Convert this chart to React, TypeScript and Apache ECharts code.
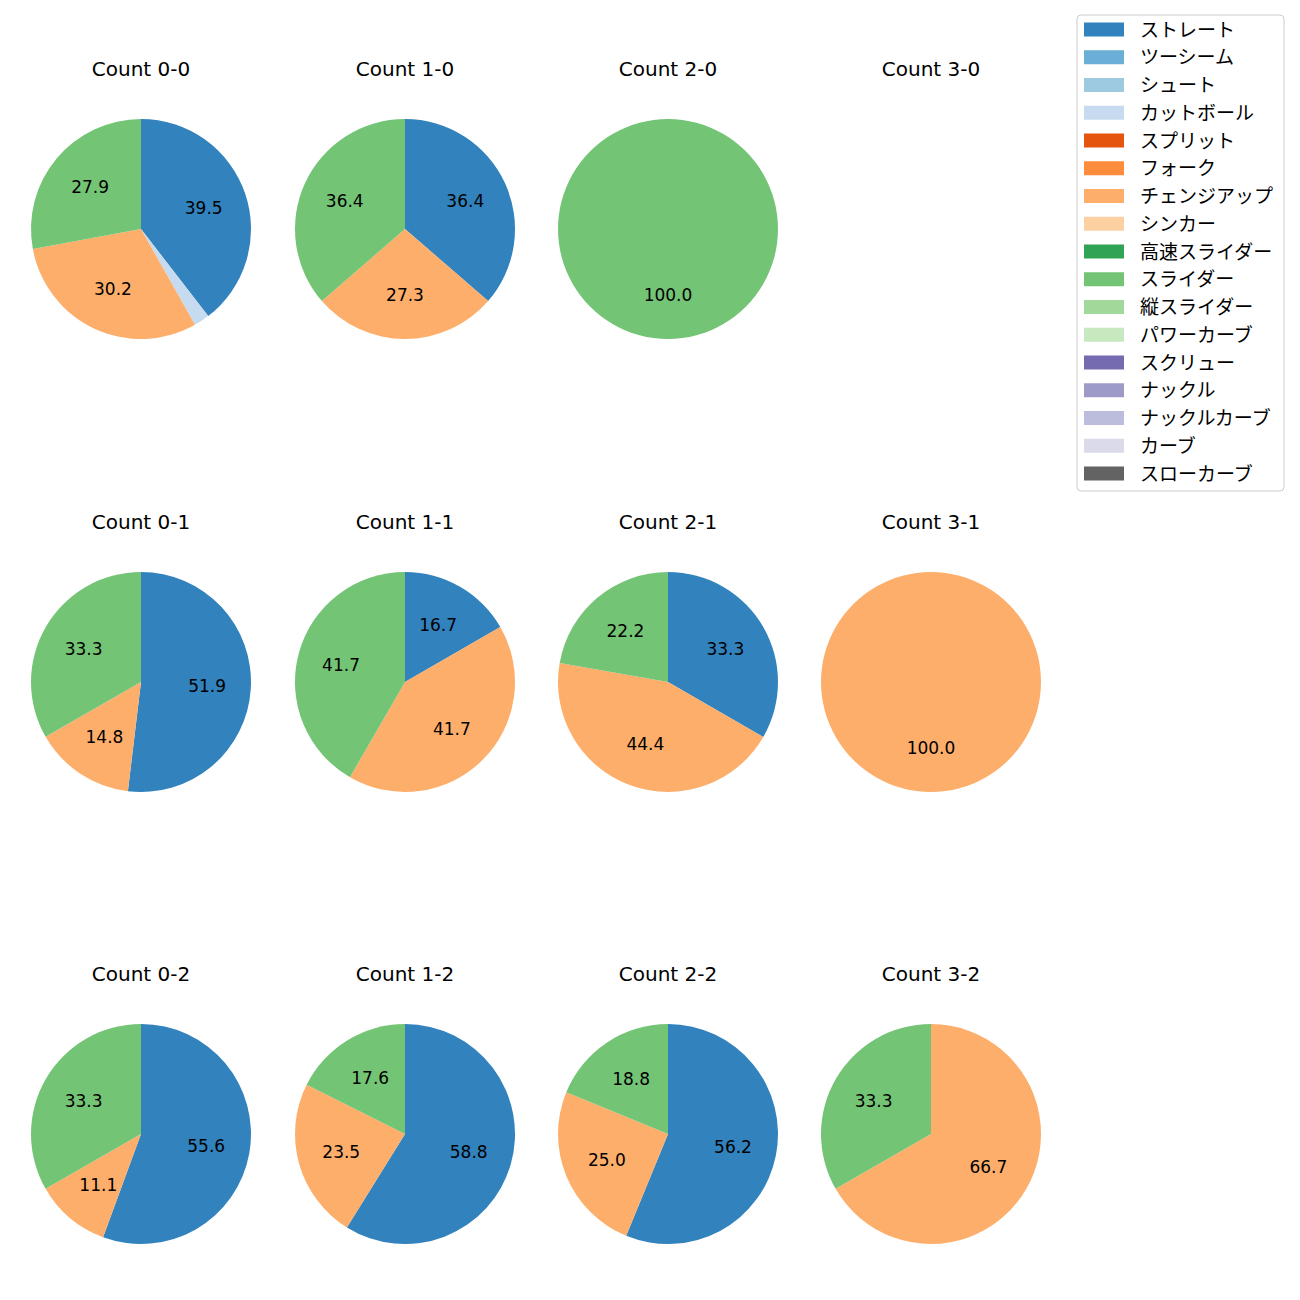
import React, { useEffect, useRef } from "react";
import * as echarts from "echarts";

const pitchTypes = [
  "ストレート", "ツーシーム", "シュート", "カットボール", "スプリット", "フォーク",
  "チェンジアップ", "シンカー", "高速スライダー", "スライダー", "縦スライダー",
  "パワーカーブ", "スクリュー", "ナックル", "ナックルカーブ", "カーブ", "スローカーブ",
];
const pitchColors = [
  "#3182bd", "#6baed6", "#9ecae1", "#c6dbef", "#e6550d", "#fd8d3c",
  "#fdae6b", "#fdd0a2", "#31a354", "#74c476", "#a1d99b", "#c7e9c0",
  "#756bb1", "#9e9ac8", "#bcbddc", "#dadaeb", "#636363",
];

const panelTitles = [
  ["Count 0-0", "Count 1-0", "Count 2-0", "Count 3-0"],
  ["Count 0-1", "Count 1-1", "Count 2-1", "Count 3-1"],
  ["Count 0-2", "Count 1-2", "Count 2-2", "Count 3-2"],
];

// percentages per panel: [pitch name, value]
const count00: [string, number][] = [["ストレート", 39.5], ["カットボール", 2.3], ["チェンジアップ", 30.2], ["スライダー", 27.9]];
const count10: [string, number][] = [["ストレート", 36.4], ["チェンジアップ", 27.3], ["スライダー", 36.4]];
const count20: [string, number][] = [["スライダー", 100.0]];
const count30: [string, number][] = [];
const count01: [string, number][] = [["ストレート", 51.9], ["チェンジアップ", 14.8], ["スライダー", 33.3]];
const count11: [string, number][] = [["ストレート", 16.7], ["チェンジアップ", 41.7], ["スライダー", 41.7]];
const count21: [string, number][] = [["ストレート", 33.3], ["チェンジアップ", 44.4], ["スライダー", 22.2]];
const count31: [string, number][] = [["チェンジアップ", 100.0]];
const count02: [string, number][] = [["ストレート", 55.6], ["チェンジアップ", 11.1], ["スライダー", 33.3]];
const count12: [string, number][] = [["ストレート", 58.8], ["チェンジアップ", 23.5], ["スライダー", 17.6]];
const count22: [string, number][] = [["ストレート", 56.2], ["チェンジアップ", 25.0], ["スライダー", 18.8]];
const count32: [string, number][] = [["チェンジアップ", 66.7], ["スライダー", 33.3]];

const panelData = [
  [count00, count10, count20, count30],
  [count01, count11, count21, count31],
  [count02, count12, count22, count32],
];

const colX = [141, 405, 668, 931];
const rowY = [229, 682, 1134];
const R = 110;
const FONT = "DejaVu Sans, Noto Sans CJK JP, sans-serif";

const colorOf = (name: string) => pitchColors[pitchTypes.indexOf(name)];

export default function App() {
  const ref = useRef<HTMLDivElement>(null);
  useEffect(() => {
    if (!ref.current) return;
    const chart = echarts.init(ref.current, undefined, { renderer: "svg" });
    const series: any[] = [];
    const titles: any[] = [];
    // legend provider series (invisible)
    series.push({
      type: "pie",
      center: [-500, -500],
      radius: [0, 0],
      silent: true,
      label: { show: false },
      labelLine: { show: false },
      data: pitchTypes.map((n, i) => ({ name: n, value: 1, itemStyle: { color: pitchColors[i] } })),
    });
    panelTitles.forEach((row, r) => {
      row.forEach((t, c) => {
        titles.push({
          text: t,
          left: colX[c],
          top: rowY[r] - 170,
          padding: 0,
          textAlign: "center",
          textStyle: { fontFamily: FONT, fontSize: 20, fontWeight: "normal", color: "#000" },
        });
        const d = panelData[r][c];
        if (!d.length) return;
        series.push({
          type: "pie",
          center: [colX[c], rowY[r]],
          radius: [0, R],
          startAngle: 90,
          clockwise: true,
          avoidLabelOverlap: false,
          silent: true,
          label: { show: false },
          labelLine: { show: false },
          itemStyle: { borderWidth: 0 },
          data: d.map(([n, v]) => ({ name: n, value: v, itemStyle: { color: colorOf(n) } })),
        });
        series.push({
          type: "pie",
          center: [colX[c], rowY[r]],
          radius: [R * 0.15, R],
          startAngle: 90,
          clockwise: true,
          avoidLabelOverlap: false,
          silent: true,
          label: {
            show: true,
            position: "inside",
            fontFamily: FONT,
            fontSize: 17,
            color: "#000",
            formatter: (p: any) => (p.value >= 3 ? p.value.toFixed(1) : ""),
          },
          labelLine: { show: false },
          itemStyle: { color: "rgba(0,0,0,0)", borderWidth: 0 },
          data: d.map(([n, v]) => ({ name: n + " ", value: v })),
        });
      });
    });
    chart.setOption({
      animation: false,
      backgroundColor: "#ffffff",
      title: titles,
      legend: {
        orient: "vertical",
        left: 1077,
        top: 15,
        data: pitchTypes,
        selectedMode: false,
        icon: "rect",
        itemWidth: 40,
        itemHeight: 14,
        itemGap: 8.75,
        padding: [5, 11, 8, 7],
        backgroundColor: "#ffffff",
        borderColor: "#cccccc",
        borderWidth: 1,
        borderRadius: 4,
        textStyle: { fontFamily: FONT, fontSize: 19, lineHeight: 18, color: "#000", padding: [0, 0, 0, 11] },
      },
      series,
    });
    return () => chart.dispose();
  }, []);
  return <div ref={ref} style={{ position: "absolute", left: 0, top: 0, width: 1300, height: 1300 }} />;
}
